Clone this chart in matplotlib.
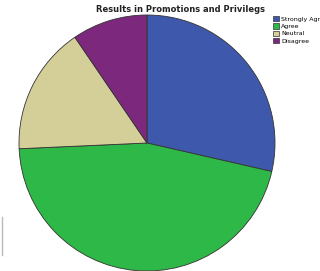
import matplotlib
matplotlib.use("Agg")
import matplotlib.pyplot as plt
from matplotlib.patches import Patch
from matplotlib.lines import Line2D

categories = ["Strongly Agree", "Agree", "Neutral", "Disagree"]
values = [30, 48, 17, 10]
colors = ["#3e58ac", "#2eb848", "#d4ce98", "#7c287d"]

fig = plt.figure(figsize=(3.2, 2.71), dpi=100)
ax = fig.add_axes([19/320, 0/271, 256/320, 256/271])
ax.pie(values, colors=colors, startangle=90, counterclock=False,
       wedgeprops=dict(edgecolor="#333333", linewidth=0.6), radius=1)
ax.set_xlim(-1, 1)
ax.set_ylim(-1, 1)
ax.set_aspect("equal")
ax.axis("off")

fig.text(180/320, 1 - 9/271, "Results in Promotions and Privilegs", ha="center", va="center",
         fontsize=6.0, fontweight="bold", color="#222222")

handles = [Patch(facecolor=c, edgecolor="#333333", linewidth=0.5) for c in colors]
fig.legend(handles, categories, loc="upper left", bbox_to_anchor=(273/320, 1 - 16/271),
           frameon=False, fontsize=4.5, handlelength=0.9, handleheight=0.9,
           handletextpad=0.4, labelspacing=0.25, borderpad=0, borderaxespad=0)

fig.add_artist(Line2D([1.5/320, 1.5/320], [1 - 217/271, 1 - 255/271],
                      transform=fig.transFigure, color="#bbbbbb", linewidth=1.0))

fig.savefig("out.png", dpi=100)
